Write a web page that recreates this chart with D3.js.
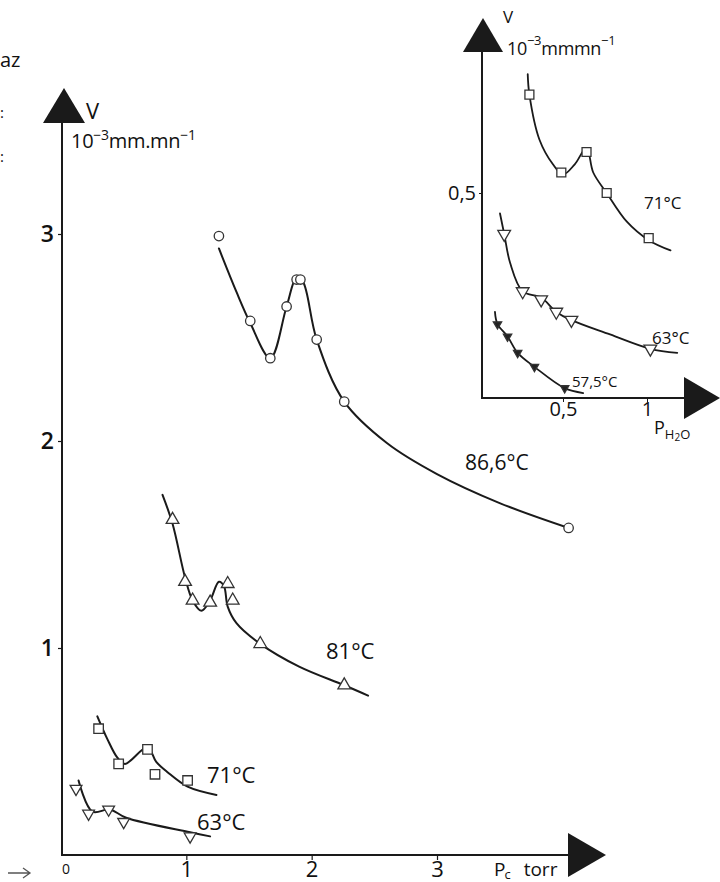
<!DOCTYPE html>
<html>
<head>
<meta charset="utf-8">
<script src="https://cdn.jsdelivr.net/npm/d3@7/dist/d3.min.js"></script>
<style>
  html, body { margin: 0; padding: 0; background: #fff; }
  svg { display: block; }
  text { font-family: "Open Sans", "DejaVu Sans", sans-serif; fill: #111; }
</style>
</head>
<body>
<svg id="chart" width="720" height="882"></svg>
<script>
// ---- Main plot: V (10^-3 mm/min) vs Pc (torr) ----
const mainTicksX = [1, 2, 3];
const mainTicksY = [1, 2, 3];

// measured points
const pts866 = [[1.26, 2.99], [1.51, 2.58], [1.67, 2.40], [1.80, 2.65], [1.88, 2.78], [1.91, 2.78], [2.04, 2.49], [2.26, 2.19], [4.05, 1.58]];
const pts81  = [[0.89, 1.62], [0.99, 1.32], [1.05, 1.23], [1.19, 1.22], [1.33, 1.31], [1.37, 1.23], [1.59, 1.02], [2.26, 0.82]];
const pts71  = [[0.30, 0.61], [0.46, 0.44], [0.69, 0.51], [0.75, 0.39], [1.01, 0.36]];
const pts63  = [[0.12, 0.32], [0.22, 0.20], [0.38, 0.22], [0.50, 0.16], [1.03, 0.09]];

// fitted curves
const fit866 = [[1.26, 2.93], [1.40, 2.72], [1.51, 2.57], [1.67, 2.40], [1.80, 2.65], [1.88, 2.79], [1.93, 2.77], [2.04, 2.49], [2.26, 2.19], [2.60, 1.99], [3.00, 1.84], [3.50, 1.70], [4.05, 1.58]];
const fit81  = [[0.81, 1.74], [0.89, 1.60], [0.99, 1.34], [1.05, 1.23], [1.12, 1.18], [1.19, 1.23], [1.26, 1.32], [1.30, 1.30], [1.33, 1.20], [1.40, 1.12], [1.59, 1.02], [1.90, 0.91], [2.26, 0.82], [2.45, 0.77]];
const fit71  = [[0.29, 0.67], [0.37, 0.56], [0.45, 0.47], [0.51, 0.44], [0.69, 0.52], [0.76, 0.45], [0.85, 0.40], [1.01, 0.33], [1.24, 0.29]];
const fit63  = [[0.14, 0.36], [0.25, 0.21], [0.39, 0.22], [0.52, 0.18], [1.03, 0.11], [1.19, 0.09]];

// ---- Inset: V vs P(H2O) ----
const insetTicksX = [0.5, 1];
const insetTicksY = [0.5];

const ins71pts = [[0.30, 0.74], [0.49, 0.55], [0.64, 0.60], [0.76, 0.50], [1.01, 0.39]];
const ins63pts = [[0.15, 0.40], [0.26, 0.26], [0.37, 0.24], [0.46, 0.21], [0.55, 0.19], [1.02, 0.12]];
const ins57pts = [[0.11, 0.18], [0.17, 0.15], [0.23, 0.11], [0.33, 0.076], [0.51, 0.024]];

const ins71fit = [[0.29, 0.79], [0.30, 0.74], [0.36, 0.63], [0.44, 0.57], [0.50, 0.545], [0.57, 0.57], [0.64, 0.61], [0.68, 0.55], [0.76, 0.50], [0.88, 0.43], [1.01, 0.385], [1.14, 0.36]];
const ins63fit = [[0.125, 0.45], [0.15, 0.40], [0.185, 0.33], [0.26, 0.26], [0.37, 0.245], [0.46, 0.21], [0.55, 0.19], [0.78, 0.155], [1.02, 0.12], [1.18, 0.11]];
const ins57fit = [[0.095, 0.21], [0.11, 0.18], [0.17, 0.15], [0.23, 0.11], [0.33, 0.076], [0.51, 0.024], [0.62, 0.012]];

const svg = d3.select("#chart");

const xMain = d3.scaleLinear().domain([0, 3]).range([61, 437]);
const yMain = d3.scaleLinear().domain([0, 3]).range([855, 234]);
const xIns = d3.scaleLinear().domain([0, 1]).range([479, 647]);
const yIns = d3.scaleLinear().domain([0, 0.5]).range([398, 193]);

const ink = "#1a1a1a";

// ---- axes lines and arrow heads ----
function arrowUp(x, yTip, w, h) {
  svg.append("path")
    .attr("d", `M${x},${yTip} L${x - w / 2},${yTip + h} L${x + w / 2},${yTip + h} Z`)
    .attr("fill", ink);
}
function arrowRight(xTip, y, w, h) {
  svg.append("path")
    .attr("d", `M${xTip},${y} L${xTip - w},${y - h / 2} L${xTip - w},${y + h / 2} Z`)
    .attr("fill", ink);
}

// main axes
svg.append("line").attr("x1", 62).attr("x2", 62).attr("y1", 118).attr("y2", 855)
  .attr("stroke", ink).attr("stroke-width", 2);
svg.append("line").attr("x1", 61).attr("x2", 572).attr("y1", 855).attr("y2", 855)
  .attr("stroke", ink).attr("stroke-width", 2);
arrowUp(64, 88, 42, 35);
arrowRight(606, 855, 38, 44);

// main ticks
const gY = svg.append("g").attr("transform", "translate(62,0)")
  .call(d3.axisLeft(yMain).tickValues(mainTicksY).tickSize(4).tickPadding(4).tickFormat(d3.format("d")));
gY.select(".domain").remove();
gY.selectAll("line").attr("stroke", ink).attr("stroke-width", 1.2);
gY.selectAll("text").style("font-size", "23px").style("font-weight", "600").attr("fill", ink);

const gX = svg.append("g").attr("transform", "translate(0,855)")
  .call(d3.axisBottom(xMain).tickValues(mainTicksX).tickSize(5).tickPadding(1).tickFormat(d3.format("d")));
gX.select(".domain").remove();
gX.selectAll("line").attr("stroke", ink).attr("stroke-width", 1.2);
gX.selectAll("text").style("font-size", "22px").attr("fill", ink);

svg.append("text").attr("x", 66).attr("y", 874).attr("text-anchor", "middle")
  .style("font-size", "14px").text("0");

// main axis titles
svg.append("text").attr("x", 86).attr("y", 119).style("font-size", "22px").text("V");
const tY = svg.append("text").attr("x", 71).attr("y", 148).style("font-size", "20px").attr("letter-spacing", "-0.3");
tY.append("tspan").text("10");
tY.append("tspan").attr("dy", -8).style("font-size", "14px").text("−3");
tY.append("tspan").attr("dy", 8).text("mm.mn");
tY.append("tspan").attr("dy", -8).style("font-size", "14px").text("−1");

const tX = svg.append("text").attr("x", 494).attr("y", 876).style("font-size", "19px");
tX.append("tspan").text("P");
tX.append("tspan").attr("dy", 3).attr("dx", -1).style("font-size", "13px").text("c");
tX.append("tspan").attr("dy", -3).attr("dx", 13).text("torr");

// margin notes and pointer
svg.append("text").attr("x", 0).attr("y", 67).style("font-size", "20px").attr("fill", "#444").text("az");
svg.append("text").attr("x", 0).attr("y", 118).style("font-size", "15px").attr("fill", "#444").text(":");
svg.append("text").attr("x", 0).attr("y", 162).style("font-size", "15px").attr("fill", "#444").text(":");
svg.append("path").attr("d", "M8,873 L30,873 M23,868 L30,873 L23,878")
  .attr("fill", "none").attr("stroke", "#555").attr("stroke-width", 1.3);

// ---- inset axes ----
svg.append("line").attr("x1", 482).attr("x2", 482).attr("y1", 48).attr("y2", 398)
  .attr("stroke", ink).attr("stroke-width", 2);
svg.append("line").attr("x1", 481).attr("x2", 690).attr("y1", 398).attr("y2", 398)
  .attr("stroke", ink).attr("stroke-width", 2);
arrowUp(483, 18, 40, 34);
arrowRight(720, 398, 36, 42);

const giY = svg.append("g").attr("transform", "translate(482,0)")
  .call(d3.axisLeft(yIns).tickValues(insetTicksY).tickSize(3).tickPadding(3).tickFormat(() => "0,5"));
giY.select(".domain").remove();
giY.selectAll("line").attr("stroke", ink);
giY.selectAll("text").style("font-size", "20px").attr("fill", ink);

const giX = svg.append("g").attr("transform", "translate(0,398)")
  .call(d3.axisBottom(xIns).tickValues(insetTicksX).tickSize(4).tickPadding(0)
    .tickFormat(d => d === 1 ? "1" : "0,5"));
giX.select(".domain").remove();
giX.selectAll("line").attr("stroke", ink);
giX.selectAll("text").style("font-size", "20px").attr("fill", ink);

svg.append("text").attr("x", 503).attr("y", 23).style("font-size", "17px").text("V");
const tiY = svg.append("text").attr("x", 507).attr("y", 55).style("font-size", "18px").attr("letter-spacing", "-0.3");
tiY.append("tspan").text("10");
tiY.append("tspan").attr("dy", -10).style("font-size", "13px").text("−3");
tiY.append("tspan").attr("dy", 10).text("mmmn");
tiY.append("tspan").attr("dy", -10).style("font-size", "13px").text("−1");

const tiX = svg.append("text").attr("x", 654).attr("y", 434).style("font-size", "18px");
tiX.append("tspan").text("P");
tiX.append("tspan").attr("dy", 5).style("font-size", "13px").text("H");
tiX.append("tspan").style("font-size", "10px").attr("dy", 2).text("2");
tiX.append("tspan").style("font-size", "13px").attr("dy", -2).text("O");

// ---- curves ----
function curve(data, xs, ys, w) {
  svg.append("path")
    .datum(data)
    .attr("fill", "none")
    .attr("stroke", ink)
    .attr("stroke-width", w)
    .attr("stroke-linejoin", "round")
    .attr("stroke-linecap", "round")
    .attr("d", d3.line().x(d => xs(d[0])).y(d => ys(d[1])).curve(d3.curveCatmullRom.alpha(0.5)));
}

curve(fit866, xMain, yMain, 2);
curve(fit81, xMain, yMain, 2);
curve(fit71, xMain, yMain, 2);
curve(fit63, xMain, yMain, 2);
curve(ins71fit, xIns, yIns, 1.8);
curve(ins63fit, xIns, yIns, 1.8);
curve(ins57fit, xIns, yIns, 1.8);

// ---- markers ----
const symPath = {
  circle: s => d3.symbol().type(d3.symbolCircle).size(s)(),
  square: s => d3.symbol().type(d3.symbolSquare).size(s)(),
  triUp: s => d3.symbol().type(d3.symbolTriangle).size(s)(),
  triDown: s => d3.symbol().type(d3.symbolTriangle).size(s)()
};
function markers(data, xs, ys, kind, size, fill) {
  svg.append("g").selectAll("path")
    .data(data)
    .join("path")
    .attr("transform", d => `translate(${xs(d[0])},${ys(d[1])})` + (kind === "triDown" ? " rotate(180)" : ""))
    .attr("d", symPath[kind](size))
    .attr("fill", fill)
    .attr("stroke", "#333")
    .attr("stroke-width", 1.3);
}

markers(pts866, xMain, yMain, "circle", 70, "white");
markers(pts81, xMain, yMain, "triUp", 70, "white");
markers(pts71, xMain, yMain, "square", 90, "white");
markers(pts63, xMain, yMain, "triDown", 60, "white");
markers(ins71pts, xIns, yIns, "square", 80, "white");
markers(ins63pts, xIns, yIns, "triDown", 70, "white");
markers(ins57pts, xIns, yIns, "triDown", 30, "#222");

// ---- series labels ----
function label(x, y, txt, size) {
  svg.append("text").attr("x", x).attr("y", y).style("font-size", size + "px").text(txt);
}
label(465, 470, "86,6°C", 21);
label(326, 659, "81°C", 22);
label(207, 783, "71°C", 22);
label(197, 830, "63°C", 22);
label(644, 209, "71°C", 17);
label(652, 344, "63°C", 17);
label(572, 387, "57,5°C", 15);
</script>
</body>
</html>
